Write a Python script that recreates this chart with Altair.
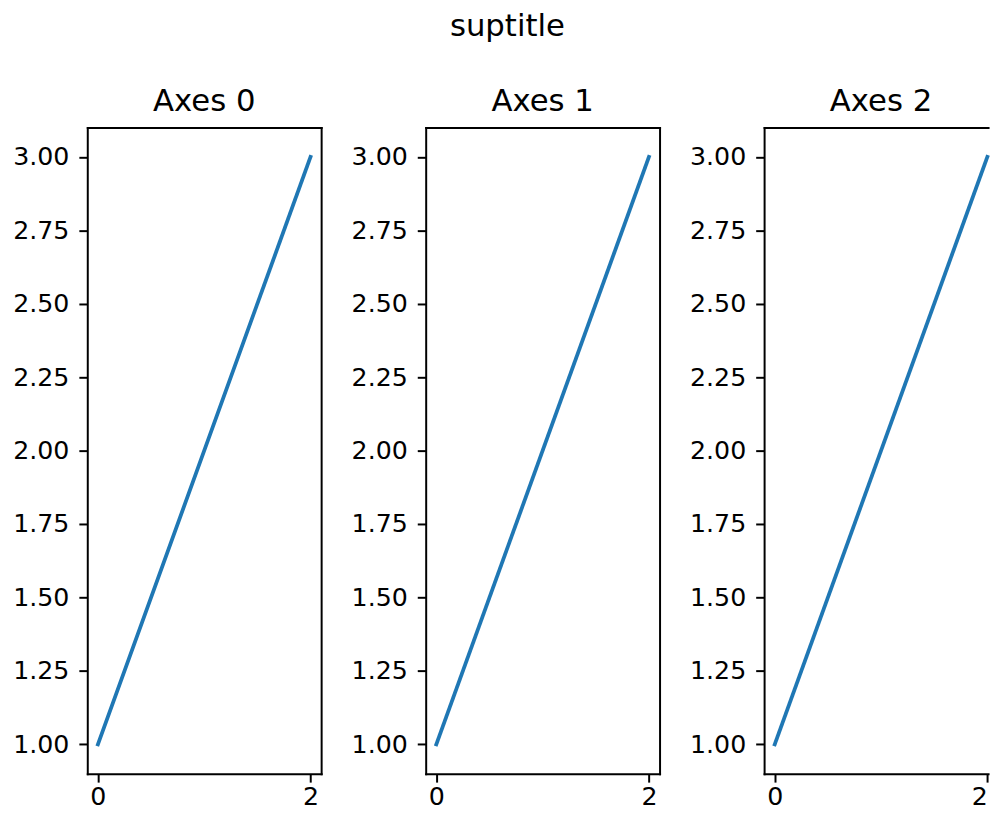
import altair as alt
import pandas as pd

suptitle = "suptitle"
panel_titles = ["Axes 0", "Axes 1", "Axes 2"]
x_vals = [0, 1, 2]
y_vals = [1, 2, 3]
x_ticks = [0, 2]
y_ticks = [1.0, 1.25, 1.5, 1.75, 2.0, 2.25, 2.5, 2.75, 3.0]

df = pd.DataFrame({"x": x_vals, "y": y_vals})
FONT = "DejaVu Sans"
PX_PER_X = 236 / 2.2  # keep the same x scale on the (window-cut) last panel


def panel(t, width, right_frame=True, title_dx=0):
    x_max = -0.1 + width / PX_PER_X
    xs = alt.Scale(domain=[-0.1, x_max], nice=False, zero=False)
    ys = alt.Scale(domain=[0.9, 3.1], nice=False, zero=False)
    line = alt.Chart(df).mark_line(color="#1f77b4", strokeWidth=3.8, strokeCap="square").encode(
        x=alt.X("x:Q", scale=xs,
                axis=alt.Axis(values=x_ticks, title=None, format="d", labelFlush=8,
                              labelPadding=3)),
        y=alt.Y("y:Q", scale=ys,
                axis=alt.Axis(values=y_ticks, title=None, format=".2f", labelFlush=False,
                              minExtent=76, maxExtent=76)),
    )
    frame_y = (alt.Axis(orient="right", labels=False, ticks=False, title=None, grid=False,
                        minExtent=0, maxExtent=0)
               if right_frame else None)
    frame = alt.Chart(df).mark_point(opacity=0, size=1).encode(
        x=alt.X("x:Q", scale=xs,
                axis=alt.Axis(orient="top", labels=False, ticks=False, title=None,
                              minExtent=0, maxExtent=0)),
        y=alt.Y("y:Q", scale=ys, axis=frame_y),
    )
    return alt.layer(line, frame).resolve_axis(x="independent", y="independent").properties(
        width=width, height=652,
        title=alt.TitleParams(t, fontSize=31, font=FONT, fontWeight="normal",
                              baseline="alphabetic", offset=-14.4, color="black", dx=title_dx),
    )


panels = [
    panel(panel_titles[0], 236),
    panel(panel_titles[1], 236),
    panel(panel_titles[2], 226, right_frame=False, title_dx=5),
]

chart = alt.hconcat(*panels, spacing=29.5).properties(
    title=alt.TitleParams(suptitle, anchor="middle", fontSize=31, font=FONT,
                          fontWeight="normal", color="black", offset=42, dx=4, dy=-1.4),
    padding={"left": 4, "top": 0, "right": 0, "bottom": 0},
).configure_view(stroke=None).configure_axis(
    domain=True, domainColor="black", domainWidth=2, domainCap="square",
    grid=False, tickColor="black", tickWidth=2, tickSize=8.5,
    labelFontSize=25.5, labelFont=FONT, labelColor="black", labelPadding=10,
    labelOverlap=False,
)

chart.save("out.html", embed_options={"renderer": "svg", "actions": False})
